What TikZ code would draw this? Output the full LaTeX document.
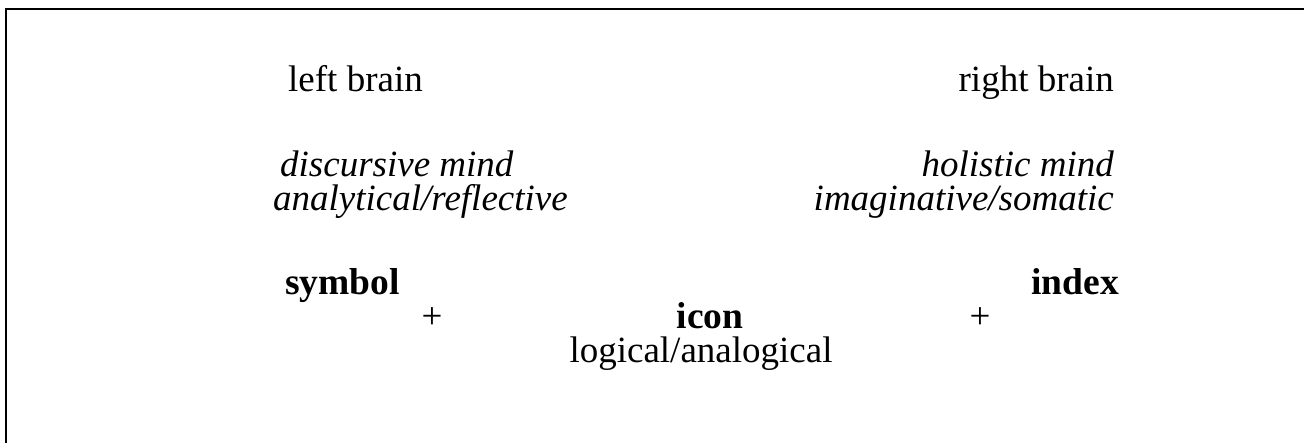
\documentclass[tikz,border=0pt]{standalone}
\usepackage{fontspec}
\setmainfont{Liberation Serif}
\tikzset{
  lbl/.style={inner sep=0pt, font=\fontsize{37}{40}\selectfont},
  ilbl/.style={lbl, font=\fontsize{37}{40}\selectfont\itshape},
  blbl/.style={lbl, font=\fontsize{37.5}{40}\selectfont\bfseries},
  frameline/.style={line width=2.6pt, line cap=rect}
}
\begin{document}
\begin{tikzpicture}[x=1pt,y=-1pt]
\useasboundingbox (0,0) rectangle (1304,442);
\clip (0,0) rectangle (1304,442);
\coordinate (fb) at (6,460);
\coordinate (fc) at (6,9);
\coordinate (fr) at (1320,9);
\draw[frameline] (fb) -- (fc) -- (fr);
\node[lbl, anchor=base west] (lb) at (288,91) {left brain};
\node[lbl, anchor=base east] (rb) at (1114,91) {right brain};
\node[ilbl, anchor=base west] (dm) at (280,176) {discursive mind};
\node[ilbl, anchor=base west] (ar) at (273,210) {analytical/reflective};
\node[ilbl, anchor=base east] (hm) at (1114,176) {holistic mind};
\node[ilbl, anchor=base east] (is) at (1114,210) {imaginative/somatic};
\node[blbl, anchor=base west] (sy) at (285,294) {symbol};
\node[blbl, anchor=base east] (ix) at (1119,294) {index};
\node[lbl, anchor=base] (p1) at (432,328) {+};
\node[blbl, anchor=base] (ic) at (710,328) {icon};
\node[lbl, anchor=base] (p2) at (980,328) {+};
\node[lbl, anchor=base] (la) at (701,362) {logical/analogical};
\end{tikzpicture}
\end{document}
